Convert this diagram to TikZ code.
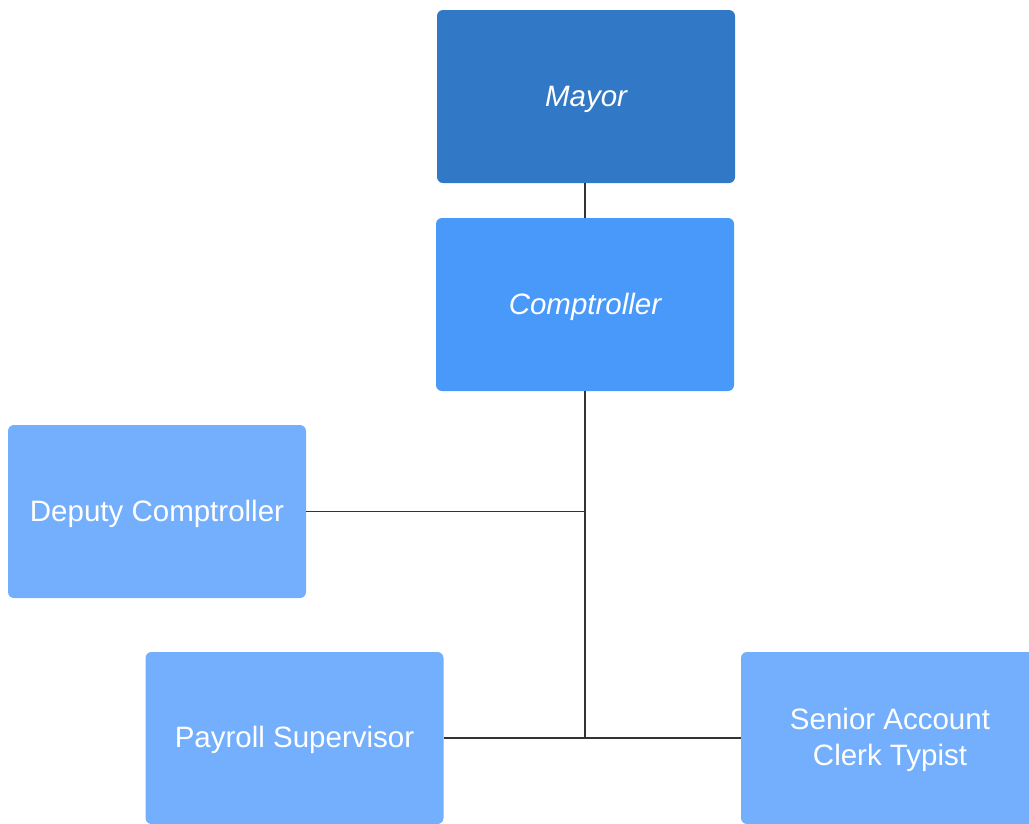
\documentclass[tikz,border=0pt]{standalone}
\usepackage{fontspec}
\setmainfont{Liberation Sans}
\definecolor{topblue}{HTML}{3178C6}
\definecolor{midblue}{HTML}{4899F9}
\definecolor{lowblue}{HTML}{73AFFC}
\definecolor{wire}{HTML}{333333}
% centred label text; extra head room sets it a little below the box middle
\newcommand\boxtext[1]{\raisebox{0pt}[\dimexpr\height+5pt\relax][\depth]{\begin{tabular}{@{}c@{}}#1\end{tabular}}}
\begin{document}
\begin{tikzpicture}[x=1pt,y=-1pt,
  orgbox/.style={rounded corners=6pt, minimum width=298pt, minimum height=173pt,
    inner sep=0pt, text=white, font=\fontsize{29.5}{36}\selectfont},
  lead/.style={orgbox, font=\fontsize{29.5}{36}\selectfont\itshape},
  link/.style={draw=wire, line width=1.1pt}]
\useasboundingbox (0,0) rectangle (1029,823);
\clip (0,0) rectangle (1029,823);
\node[lead, fill=topblue] (mayor) at (586,96.5) {\boxtext{Mayor}};
\node[lead, fill=midblue] (comp) at (585,304.5) {\boxtext{Comptroller}};
\node[orgbox, fill=lowblue] (deputy) at (157,511.5) {\boxtext{Deputy Comptroller}};
\node[orgbox, fill=lowblue, minimum height=172pt] (payroll) at (294.5,738) {\boxtext{Payroll Supervisor}};
\node[orgbox, fill=lowblue, minimum height=172pt] (clerk) at (890,738) {\boxtext{Senior Account\\Clerk Typist}};
\coordinate (j1) at (585,511.5);
\coordinate (j2) at (585,738);
\draw[link] (mayor.south -| comp.south) -- (comp.north);
\draw[link] (comp.south) -- (j2);
\draw[link] (j1) -- (deputy.east);
\draw[link] (payroll.east) -- (clerk.west);
\end{tikzpicture}
\end{document}
